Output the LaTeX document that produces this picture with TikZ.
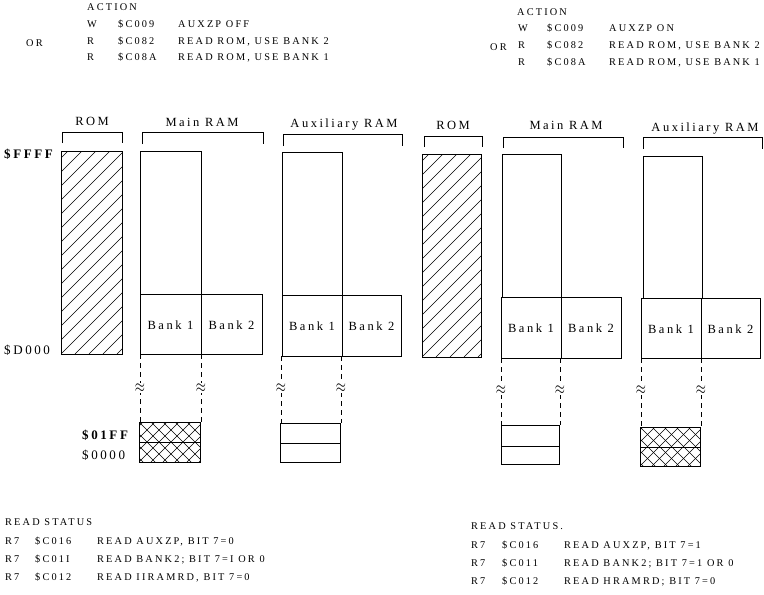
\documentclass[tikz,border=0pt]{standalone}
\usepackage{fontspec}
\setmainfont{Liberation Serif}
\newfontfamily\smf[LetterSpace=21]{Liberation Serif}
\newfontfamily\lbf[LetterSpace=20]{Liberation Serif}
\newcommand\smtxt{\smf\fontsize{10.3}{11}\selectfont}
\newcommand\lbtxt{\lbf\fontsize{12.5}{14}\selectfont}
\newcommand\adtxt{\lbf\fontsize{13}{14}\selectfont}
\newcommand\romhatch[4]{%
  \begin{scope}
    \clip (#1,#2) rectangle (#3,#4);
    \foreach \o in {-224,-210,...,84} \draw[hatchline] ({#1+\o},#4) -- ({#1+\o+224},{#4-224});
  \end{scope}}
\newcommand\xhatch[4]{%
  \begin{scope}
    \clip (#1,#2) rectangle (#3,#4);
    \foreach \o in {-60,-48,...,72} {
      \draw[hatchline] ({#1+\o},#4) -- ({#1+\o+60},{#4-60});
      \draw[hatchline] ({#1+\o},#2) -- ({#1+\o+60},{#2+60});}
  \end{scope}}
\tikzset{
  box/.style={line width=0.9pt},
  hatchline/.style={line width=0.6pt},
  brk/.style={line width=0.9pt},
  gap/.style={line width=0.8pt, dash pattern=on 5pt off 4pt},
  sm/.style={font=\smtxt, inner sep=0pt, anchor=base west},
  lb/.style={font=\lbtxt, inner sep=0pt, anchor=base},
  bk/.style={font=\lbtxt, inner sep=0pt, anchor=base},
  ad/.style={font=\adtxt, inner sep=0pt, anchor=base west},
  brkn/.style={inner sep=0.3pt, fill=white}
}
\newcommand\wig{\scalebox{1.3}[1.8]{$\approx$}}
\begin{document}
\begin{tikzpicture}[x=1pt,y=-1pt]
\useasboundingbox (0,0) rectangle (764,595);
% ---------- top-left action text
\node[sm] (a1) at (87,10) {ACTION};
\node[sm] (a2) at (87,27) {W};
\node[sm] (a3) at (118,27) {\$C009};
\node[sm] (a4) at (178,27) {AUXZP OFF};
\node[sm] (a5) at (87,44) {R};
\node[sm] (a6) at (118,44) {\$C082};
\node[sm] (a7) at (178,44) {READ ROM, USE BANK 2};
\node[sm] (a8) at (87,60) {R};
\node[sm] (a9) at (118,60) {\$C08A};
\node[sm] (a10) at (178,60) {READ ROM, USE BANK 1};
\node[sm] (aor) at (26,46) {OR};
% ---------- top-right action text
\node[sm] (b1) at (517,15) {ACTION};
\node[sm] (b2) at (518,31) {W};
\node[sm] (b3) at (547,31) {\$C009};
\node[sm] (b4) at (609,31) {AUXZP ON};
\node[sm] (b5) at (518,48) {R};
\node[sm] (b6) at (547,48) {\$C082};
\node[sm] (b7) at (609,48) {READ ROM, USE BANK 2};
\node[sm] (b8) at (518,65) {R};
\node[sm] (b9) at (547,65) {\$C08A};
\node[sm] (b10) at (609,65) {READ ROM, USE BANK 1};
\node[sm] (bor) at (490,50) {OR};
% ---------- column labels and brackets
\node[lb] (l1) at (92,125) {ROM};
\node[lb] (l2) at (202,126) {Main RAM};
\node[lb] (l3) at (344,127) {Auxiliary RAM};
\node[lb] (l4) at (453,129) {ROM};
\node[lb] (l5) at (566,129) {Main RAM};
\node[lb] (l6) at (705,131) {Auxiliary RAM};
\draw[brk] (62,143) -- (62,132) -- (122,132) -- (122,143);
\draw[brk] (142,144) -- (142,132) -- (263,132) -- (263,144);
\draw[brk] (283,146) -- (283,134) -- (402,134) -- (402,146);
\draw[brk] (424,147) -- (424,136) -- (482,136) -- (482,147);
\draw[brk] (503,148) -- (503,137) -- (623,137) -- (623,148);
\draw[brk] (643,149) -- (643,137) -- (762,137) -- (762,149);
% ---------- address labels
\node[ad, font=\adtxt\bfseries] (fff) at (4,158) {\$FFFF};
\node[ad] (d00) at (4,354) {\$D000};
\node[ad, font=\adtxt\bfseries] (o1f) at (82,439) {\$01FF};
\node[ad] (o00) at (82,459) {\$0000};
% ---------- left ROM
\romhatch{61}{151}{122}{354}
\draw[box] (61,151) rectangle (122,354);
% ---------- left main RAM
\draw[box] (140,294) -- (140,151) -- (201,151) -- (201,294);
\draw[box] (140,294) rectangle (262,354);
\draw[box] (201,294) -- (201,354);
\node[bk] (lm1) at (170.5,329) {Bank 1};
\node[bk] (lm2) at (231.5,329) {Bank 2};
\draw[gap] (140,354) -- (140,422);
\draw[gap] (201,354) -- (201,422);
\node[brkn] (z1) at (140,388) {\wig};
\node[brkn] (z2) at (201,388) {\wig};
\xhatch{139}{422}{200}{462}
\draw[box] (139,422) rectangle (200,462);
\draw[box] (139,442) -- (200,442);
% ---------- left auxiliary RAM
\draw[box] (282,295) -- (282,152) -- (342,152) -- (342,295);
\draw[box] (282,295) rectangle (401,356);
\draw[box] (342,295) -- (342,356);
\node[bk] (la1) at (312,330) {Bank 1};
\node[bk] (la2) at (371.5,330) {Bank 2};
\draw[gap] (281,356) -- (281,423);
\draw[gap] (341,356) -- (341,423);
\node[brkn] (z3) at (281,388) {\wig};
\node[brkn] (z4) at (341,388) {\wig};
\draw[box] (280,423) rectangle (340,462);
\draw[box] (280,443) -- (340,443);
% ---------- right ROM
\romhatch{422}{154}{481}{357}
\draw[box] (422,154) rectangle (481,357);
% ---------- right main RAM
\draw[box] (502,297) -- (502,154) -- (561,154) -- (561,297);
\draw[box] (501,297) rectangle (621,358);
\draw[box] (561,297) -- (561,358);
\node[bk] (rm1) at (531,332) {Bank 1};
\node[bk] (rm2) at (591,332) {Bank 2};
\draw[gap] (501,358) -- (501,425);
\draw[gap] (560,358) -- (560,425);
\node[brkn] (z5) at (501,390) {\wig};
\node[brkn] (z6) at (560,390) {\wig};
\draw[box] (501,425) rectangle (559,464);
\draw[box] (501,446) -- (559,446);
% ---------- right auxiliary RAM
\draw[box] (643,298) -- (643,156) -- (702,156) -- (702,298);
\draw[box] (641,298) rectangle (760,358);
\draw[box] (701,298) -- (701,358);
\node[bk] (ra1) at (671,333) {Bank 1};
\node[bk] (ra2) at (730.5,333) {Bank 2};
\draw[gap] (641,358) -- (641,427);
\draw[gap] (701,358) -- (701,427);
\node[brkn] (z7) at (641,390) {\wig};
\node[brkn] (z8) at (701,390) {\wig};
\xhatch{640}{427}{700}{466}
\draw[box] (640,427) rectangle (700,466);
\draw[box] (640,447) -- (700,447);
% ---------- bottom-left status text
\node[sm] (c0) at (5,525) {READ STATUS};
\node[sm] (c1) at (5,544) {R7};
\node[sm] (c2) at (35,544) {\$C016};
\node[sm] (c3) at (97,544) {READ AUXZP, BIT 7=0};
\node[sm] (c4) at (5,562) {R7};
\node[sm] (c5) at (35,562) {\$C01I};
\node[sm] (c6) at (97,562) {READ BANK2; BIT 7=I OR 0};
\node[sm] (c7) at (5,580) {R7};
\node[sm] (c8) at (35,580) {\$C012};
\node[sm] (c9) at (97,580) {READ IIRAMRD, BIT 7=0};
% ---------- bottom-right status text
\node[sm] (d0) at (471,529) {READ STATUS.};
\node[sm] (d1) at (471,548) {R7};
\node[sm] (d2) at (502,548) {\$C016};
\node[sm] (d3) at (564,548) {READ AUXZP, BIT 7=1};
\node[sm] (d4) at (471,566) {R7};
\node[sm] (d5) at (502,566) {\$C011};
\node[sm] (d6) at (564,566) {READ BANK2; BIT 7=1 OR 0};
\node[sm] (d7) at (471,584) {R7};
\node[sm] (d8) at (502,584) {\$C012};
\node[sm] (d9) at (564,584) {READ HRAMRD; BIT 7=0};
\end{tikzpicture}
\end{document}
